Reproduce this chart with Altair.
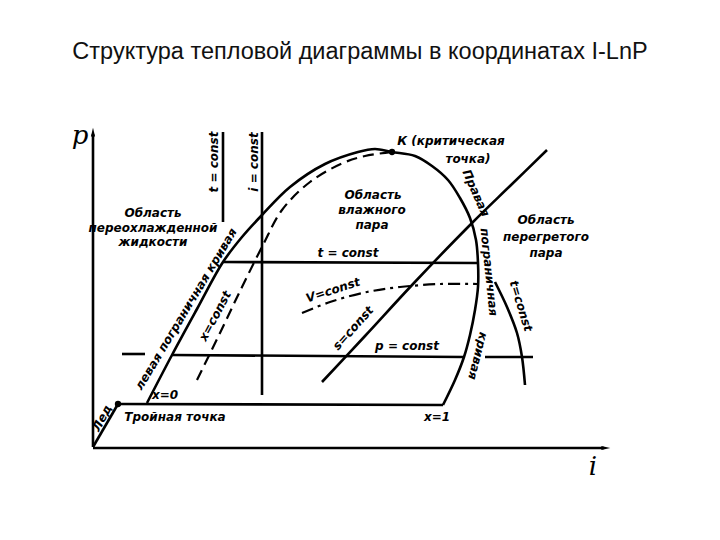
import altair as alt
import pandas as pd

# ---------------- data (diagram units: i to the right, p downward like the sheet) ----
title_text = "Структура тепловой диаграммы в координатах I-LnP"

# pograničnaya (boundary) curve: left branch -> K -> right branch
boundary_x = [147, 172, 197, 223, 242, 262, 290, 325, 358, 375, 392, 415, 432, 448, 460, 470, 476, 478, 478, 475, 470, 464, 455, 443]
boundary_y = [403, 355, 309, 262, 237, 215, 187, 164, 152, 149, 152, 156, 166, 180, 198, 218, 240, 263, 287, 310, 335, 357, 380, 405]

# x = const (dashed)
xconst_x = [197, 220, 242, 263, 282, 310, 343, 365, 392]
xconst_y = [380, 333, 287, 245, 210, 182, 163, 156, 152]

# s = const
s_x = [322, 365, 413, 473, 510, 547]
s_y = [382, 336, 284, 222, 186, 150]

# V = const (dash-dot)
v_x = [302, 330, 367, 400, 440, 477]
v_y = [313, 302, 292, 287, 284, 284]

# t = const in superheated region
tsup_x = [495, 507, 517, 522, 525]
tsup_y = [282, 307, 333, 357, 385]

# straight segments: name, x1, y1, x2, y2
seg_names = ["p_axis", "i_axis", "ice", "triple", "t_liq", "i_const", "t_wet", "p_wet", "p_liq", "p_sup"]
seg_x1 = [93, 93, 93, 118, 223, 262, 223, 172, 122, 485]
seg_y1 = [447, 448, 447, 404, 132, 132, 262, 355, 354, 357]
seg_x2 = [93, 604, 118, 443, 223, 262, 478, 464, 145, 533]
seg_y2 = [134, 448, 404, 405, 222, 395, 263, 357, 354, 357]

# special points
dot_x = [118, 392]
dot_y = [404, 152]

# labels
lab_text = ["Область", "переохлажденной", "жидкости",
            "Область", "влажного", "пара",
            "Область", "перегретого", "пара",
            "К (критическая", "точка)",
            "t = const", "i = const", "t = const", "V=const", "s=const", "p = const",
            "x=const", "левая пограничная кривая", "x=0", "Тройная точка", "x=1", "Лед",
            "Правая", "пограничная", "кривая", "t=const"]
lab_x = [153, 153, 153,
         373, 372, 372,
         546, 546, 546,
         451, 468,
         214, 254, 348, 333, 353, 407,
         215, 186, 165, 175, 437, 102,
         476, 489, 478, 521]
lab_y = [213, 228, 242,
         195, 210, 225,
         220, 237, 253,
         141, 159,
         162, 162, 253, 290, 328, 346,
         316, 309, 395, 417, 417, 418,
         193, 272, 356, 306]
lab_angle = [0, 0, 0,
             0, 0, 0,
             0, 0, 0,
             0, 0,
             -90, -90, 0, -18, -48, 0,
             -62, -59, 0, 0, 0, -62,
             66, 84, 104, 73]

axis_letters = ["p", "i"]
axis_lx = [80, 593]
axis_ly = [136, 467]

# ---------------- build tables ----------------
rows = []
def add_poly(name, kind, xs, ys):
    for k, (a, b) in enumerate(zip(xs, ys)):
        rows.append({"name": name, "kind": kind, "ord": k, "x": a, "y": b})

add_poly("boundary", "curve", boundary_x, boundary_y)
add_poly("s_const", "curve", s_x, s_y)
add_poly("t_sup", "curve", tsup_x, tsup_y)
add_poly("x_const", "dash", xconst_x, xconst_y)
add_poly("v_const", "dashdot", v_x, v_y)
for n, a1, b1, a2, b2 in zip(seg_names, seg_x1, seg_y1, seg_x2, seg_y2):
    add_poly(n, "straight", [a1, a2], [b1, b2])
lines = pd.DataFrame(rows)

labels = pd.DataFrame({"text": lab_text, "x": lab_x, "y": lab_y,
                       "angle": [(a + 360) % 360 for a in lab_angle]})
axl = pd.DataFrame({"text": axis_letters, "x": axis_lx, "y": axis_ly})
dots = pd.DataFrame({"x": dot_x, "y": dot_y})
arrow_up = pd.DataFrame({"x": [seg_x2[0]], "y": [seg_y2[0]]})
arrow_right = pd.DataFrame({"x": [seg_x2[1]], "y": [seg_y2[1]]})
title_df = pd.DataFrame({"text": [title_text], "x": [360], "y": [52]})

xs = alt.Scale(domain=[8, 712], nice=False, zero=False)
ys = alt.Scale(domain=[8, 532], reverse=True, nice=False, zero=False)
X = alt.X("x:Q", scale=xs, axis=None)
Y = alt.Y("y:Q", scale=ys, axis=None)

base = alt.Chart(lines).encode(x=X, y=Y, detail="name:N", order="ord:Q")
straight = base.transform_filter("datum.kind == 'straight'").mark_line(
    color="black", strokeWidth=2.6, strokeCap="butt")
curve = base.transform_filter("datum.kind == 'curve'").mark_line(
    color="black", strokeWidth=2.6, interpolate="catmull-rom")
dash = base.transform_filter("datum.kind == 'dash'").mark_line(
    color="black", strokeWidth=2.2, interpolate="catmull-rom", strokeDash=[11, 6])
dashdot = base.transform_filter("datum.kind == 'dashdot'").mark_line(
    color="black", strokeWidth=2.2, interpolate="catmull-rom", strokeDash=[12, 5, 3, 5])

up = alt.Chart(arrow_up).mark_point(
    shape="M0,-1.2L0.4,0.5L-0.4,0.5Z", filled=True, color="black", opacity=1, size=110
).encode(x=X, y=Y)
right = alt.Chart(arrow_right).mark_point(
    shape="M1.2,0L-0.5,0.4L-0.5,-0.4Z", filled=True, color="black", opacity=1, size=110
).encode(x=X, y=Y)
pts = alt.Chart(dots).mark_circle(color="black", opacity=1, size=40).encode(x=X, y=Y)

txt = alt.Chart(labels).mark_text(
    font="DejaVu Sans", fontSize=12, fontWeight="bold", fontStyle="italic",
    color="black", baseline="middle", align="center"
).encode(x=X, y=Y, text="text:N", angle=alt.Angle("angle:Q", scale=None))

axt = alt.Chart(axl).mark_text(
    font="DejaVu Serif", fontSize=26, fontStyle="italic", color="black",
    baseline="middle", align="center"
).encode(x=X, y=Y, text="text:N")

ttl = alt.Chart(title_df).mark_text(
    font="Liberation Sans", fontSize=23.5, color="#111111", baseline="middle", align="center"
).encode(x=X, y=Y, text="text:N")

chart = alt.layer(straight, curve, dash, dashdot, up, right, pts, txt, axt, ttl).properties(
    width=704, height=524, autosize=alt.AutoSizeParams(type="none"), padding=0,
    background="white"
).configure_view(stroke=None)

chart.save("out.html", embed_options={"renderer": "svg", "actions": False})
